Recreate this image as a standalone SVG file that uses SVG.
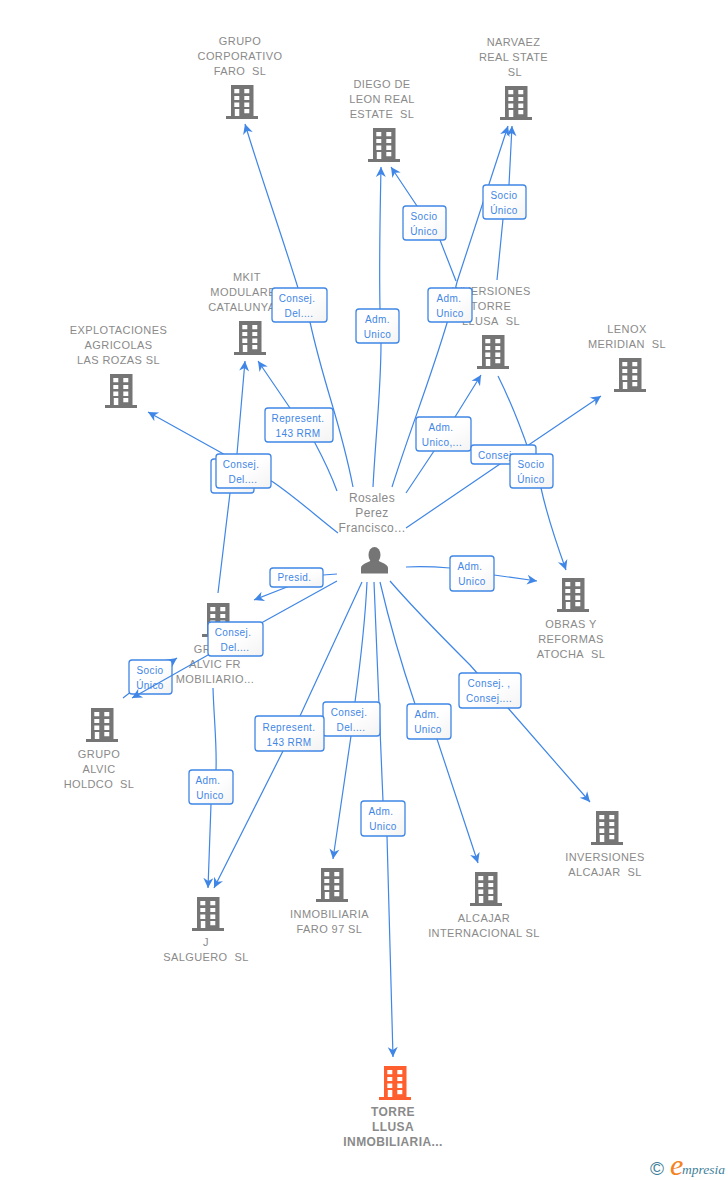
<svg xmlns="http://www.w3.org/2000/svg" xmlns:xlink="http://www.w3.org/1999/xlink" width="728" height="1180" viewBox="0 0 728 1180">
<style>
text{font-family:"Liberation Sans",Arial,sans-serif}
.n{font-size:11px;fill:#8a8a8a;text-anchor:middle;letter-spacing:.4px}
.nb{font-weight:bold;font-size:12px;letter-spacing:.4px}
.c{fill:none;stroke:#3f86e6;stroke-width:1.2}
.b{fill:url(#bg);stroke:#3f86e6;stroke-width:1.3}
.l{font-size:10px;fill:#3f86e6;text-anchor:middle;letter-spacing:.4px}
</style>
<defs>
<linearGradient id="bg" x1="0" y1="0" x2="1" y2="1"><stop offset="0" stop-color="#fff"/><stop offset="0.5" stop-color="#fff"/><stop offset="1" stop-color="#f3f3f3"/></linearGradient>
<marker id="a" markerUnits="userSpaceOnUse" markerWidth="14" markerHeight="14" viewBox="0 0 14 14" refX="11" refY="7" orient="auto"><path d="M11,7 L1,2 L4,7 L1,12 Z" fill="#3f86e6"/></marker>
<symbol id="bld" viewBox="0 0 32 34" width="32" height="34">
<path fill-rule="evenodd" d="M5,0H27.500V31H32V34H0V31H5Z M8.300,4V8.300H13.300V4Z M18.300,4V8.300H23.300V4Z M8.300,11V15H13.300V11Z M18.300,11V15H23.300V11Z M8.300,17.500V22H13.300V17.500Z M18.300,17.500V22H23.300V17.500Z M8.800,24V31H13.300V24Z M18.300,24V28.300H23.300V24Z"/>
</symbol>
</defs>
<g id="node-grupo-corporativo"><use href="#bld" x="226" y="85" fill="#757575"/><text class="n" x="240" y="45"><tspan x="240">GRUPO</tspan><tspan x="240" dy="15">CORPORATIVO</tspan><tspan x="240" dy="15">FARO&#160; SL</tspan></text></g>
<g id="node-diego"><use href="#bld" x="368" y="128" fill="#757575"/><text class="n" x="382" y="88"><tspan x="382">DIEGO DE</tspan><tspan x="382" dy="15">LEON REAL</tspan><tspan x="382" dy="15">ESTATE&#160; SL</tspan></text></g>
<g id="node-narvaez"><use href="#bld" x="500" y="86" fill="#757575"/><text class="n" x="513.500" y="46"><tspan x="513.500">NARVAEZ</tspan><tspan x="513.500" dy="15">REAL STATE</tspan><tspan x="515" dy="15">SL</tspan></text></g>
<g id="node-mkit"><use href="#bld" x="234" y="321" fill="#757575"/><text class="n" x="247" y="281"><tspan x="247">MKIT</tspan><tspan x="247" dy="15">MODULARES</tspan><tspan x="247" dy="15">CATALUNYA...</tspan></text></g>
<g id="node-explotaciones"><use href="#bld" x="105" y="374" fill="#757575"/><text class="n" x="118.500" y="334"><tspan x="118.500">EXPLOTACIONES</tspan><tspan x="118.500" dy="15">AGRICOLAS</tspan><tspan x="118.500" dy="15">LAS ROZAS SL</tspan></text></g>
<g id="node-inversiones-torre"><use href="#bld" x="477" y="335" fill="#757575"/><text class="n" x="491" y="295"><tspan x="491">INVERSIONES</tspan><tspan x="491" dy="15">TORRE</tspan><tspan x="491" dy="15">LLUSA&#160; SL</tspan></text></g>
<g id="node-lenox"><use href="#bld" x="614" y="358" fill="#757575"/><text class="n" x="627" y="333"><tspan x="627">LENOX</tspan><tspan x="627" dy="15">MERIDIAN&#160; SL</tspan></text></g>
<g id="node-obras"><use href="#bld" x="557" y="578" fill="#757575"/><text class="n" x="571" y="628"><tspan x="571">OBRAS Y</tspan><tspan x="571" dy="15">REFORMAS</tspan><tspan x="571" dy="15">ATOCHA&#160; SL</tspan></text></g>
<g id="node-alvic-fr"><use href="#bld" x="202" y="603" fill="#757575"/><text class="n" x="215" y="653"><tspan x="215">GRUPO</tspan><tspan x="215" dy="15">ALVIC FR</tspan><tspan x="215" dy="15">MOBILIARIO...</tspan></text></g>
<g id="node-alvic-holdco"><use href="#bld" x="86" y="708" fill="#757575"/><text class="n" x="99" y="758"><tspan x="99">GRUPO</tspan><tspan x="99" dy="15">ALVIC</tspan><tspan x="99" dy="15">HOLDCO&#160; SL</tspan></text></g>
<g id="node-salguero"><use href="#bld" x="192" y="897" fill="#757575"/><text class="n" x="206" y="946"><tspan x="206">J</tspan><tspan x="206" dy="15">SALGUERO&#160; SL</tspan></text></g>
<g id="node-inmobiliaria"><use href="#bld" x="316" y="868" fill="#757575"/><text class="n" x="329.500" y="918"><tspan x="329.500">INMOBILIARIA</tspan><tspan x="329.500" dy="15">FARO 97 SL</tspan></text></g>
<g id="node-alcajar"><use href="#bld" x="470" y="872" fill="#757575"/><text class="n" x="484" y="922"><tspan x="484">ALCAJAR</tspan><tspan x="484" dy="15">INTERNACIONAL SL</tspan></text></g>
<g id="node-inversiones-alcajar"><use href="#bld" x="591" y="811" fill="#757575"/><text class="n" x="605" y="861"><tspan x="605">INVERSIONES</tspan><tspan x="605" dy="15">ALCAJAR&#160; SL</tspan></text></g>
<g id="node-torre-llusa"><use href="#bld" x="379" y="1066" fill="#ff5f2e"/><text class="n nb" x="393" y="1116"><tspan x="393">TORRE</tspan><tspan x="393" dy="15">LLUSA</tspan><tspan x="393" dy="15">INMOBILIARIA...</tspan></text></g>
<g id="node-person">
<text class="n" style="font-size:12px" x="372" y="502"><tspan x="372">Rosales</tspan><tspan x="372" dy="15">Perez</tspan><tspan x="372" dy="15">Francisco...</tspan></text>
<ellipse cx="374.500" cy="555" rx="6" ry="8" fill="#757575"/>
<path d="M361,573.500V568C361,564 368,562.500 371,560.500H378C381,562.500 388,564 388,568V573.500Z" fill="#757575"/>
</g>
<g id="connectors">
<path class="c" marker-end="url(#a)" d="M353,487C340,420 325,390 310,322L298,288C280,230 262,180 245,124"/>
<path class="c" marker-end="url(#a)" d="M373,487C376,430 381,390 381,343L380,309C379,260 380,220 381,167"/>
<path class="c" marker-end="url(#a)" d="M456,281L440,240L417,206L391,167"/>
<path class="c" marker-end="url(#a)" d="M392,487C410,430 430,380 447,323L457,282L508,126"/>
<path class="c" marker-end="url(#a)" d="M497,280L503,219L509,185L512,126"/>
<path class="c" marker-end="url(#a)" d="M218,593L230,493L237,454L245,361"/>
<path class="c" marker-end="url(#a)" d="M337,491C330,472 323,458 315,443L290,408L258,361"/>
<path class="c" marker-end="url(#a)" d="M338,533C315,515 295,497 273,482L220,452L148,412"/>
<path class="c" marker-end="url(#a)" d="M406,493L434,451L455,417L481,375"/>
<path class="c" marker-end="url(#a)" d="M406,528L500,464L530,444L601,396"/>
<path class="c" marker-end="url(#a)" d="M498,376C510,400 520,425 530,454L541,488C548,520 557,545 566,570"/>
<path class="c" marker-end="url(#a)" d="M406,567C425,566 438,567 450,568L494,575L537,581"/>
<path class="c" marker-end="url(#a)" d="M390,581C415,610 440,635 470,665L508,708L590,802"/>
<path class="c" marker-end="url(#a)" d="M380,582C390,625 400,660 415,704L437,739L478,863"/>
<path class="c" marker-end="url(#a)" d="M374,582C377,660 380,730 383,801L387,836L393,1057"/>
<path class="c" marker-end="url(#a)" d="M367,582C365,625 360,665 355,702L351,736L333,859"/>
<path class="c" marker-end="url(#a)" d="M362,582L300,716L283,751L214,888"/>
<path class="c" marker-end="url(#a)" d="M213,688C214,720 217,745 216,770L211,804L208,888"/>
<path class="c" marker-end="url(#a)" d="M337,574L323,575L287,587L254,600"/>
<path class="c" marker-end="url(#a)" d="M123,698L150,677L177,658"/>
<g id="label-socio-alvic">
<rect class="b" x="129" y="660" width="43" height="34" rx="3"/><text class="l"><tspan x="150" y="674">Socio</tspan><tspan x="150" y="689">Único</tspan></text>
</g>
<path class="c" marker-end="url(#a)" d="M337,581L263,622L208,655L132,698"/>
<g id="labels">
<rect class="b" x="272" y="288" width="55" height="34" rx="3"/><text class="l"><tspan x="297" y="302">Consej.</tspan><tspan x="299" y="317">Del....</tspan></text>
<rect class="b" x="356" y="309" width="43" height="34" rx="3"/><text class="l"><tspan x="377.500" y="323">Adm.</tspan><tspan x="377.500" y="338">Unico</tspan></text>
<rect class="b" x="403" y="206" width="43" height="34" rx="3"/><text class="l"><tspan x="424" y="220">Socio</tspan><tspan x="424" y="235">Único</tspan></text>
<rect class="b" x="428" y="288" width="44" height="34" rx="3"/><text class="l"><tspan x="449" y="302">Adm.</tspan><tspan x="450" y="317">Unico</tspan></text>
<rect class="b" x="483" y="185" width="43" height="34" rx="3"/><text class="l"><tspan x="504" y="199">Socio</tspan><tspan x="504" y="214">Único</tspan></text>
<rect class="b" x="265" y="408" width="68" height="34" rx="3"/><text class="l"><tspan x="298" y="422">Represent.</tspan><tspan x="298" y="437">143 RRM</tspan></text>
<rect class="b" x="211" y="459" width="43" height="34" rx="3"/>
<rect class="b" x="216" y="454" width="55" height="34" rx="3"/><text class="l"><tspan x="241" y="468">Consej.</tspan><tspan x="243" y="483">Del....</tspan></text>
<rect class="b" x="416" y="417" width="55" height="34" rx="3"/><text class="l"><tspan x="441" y="431">Adm.</tspan><tspan x="442" y="446">Unico,...</tspan></text>
<rect class="b" x="471" y="445" width="65" height="19" rx="3"/><text class="l" x="478" y="459" style="text-anchor:start">Consej.</text>
<rect class="b" x="510" y="454" width="43" height="34" rx="3"/><text class="l"><tspan x="531" y="468">Socio</tspan><tspan x="531" y="483">Único</tspan></text>
<rect class="b" x="450" y="556" width="44" height="35" rx="3"/><text class="l"><tspan x="470" y="570">Adm.</tspan><tspan x="472" y="585">Unico</tspan></text>
<rect class="b" x="459" y="673" width="62" height="35" rx="3"/><text class="l"><tspan x="489" y="687">Consej. ,</tspan><tspan x="489" y="702">Consej....</tspan></text>
<rect class="b" x="407" y="704" width="44" height="35" rx="3"/><text class="l"><tspan x="427" y="718">Adm.</tspan><tspan x="428" y="733">Unico</tspan></text>
<rect class="b" x="361" y="801" width="44" height="35" rx="3"/><text class="l"><tspan x="381" y="815">Adm.</tspan><tspan x="383" y="830">Unico</tspan></text>
<rect class="b" x="323" y="702" width="57" height="34" rx="3"/><text class="l"><tspan x="349" y="716">Consej.</tspan><tspan x="351" y="731">Del....</tspan></text>
<rect class="b" x="255" y="716" width="69" height="35" rx="3"/><text class="l"><tspan x="289" y="731">Represent.</tspan><tspan x="289" y="746">143 RRM</tspan></text>
<rect class="b" x="189" y="770" width="44" height="34" rx="3"/><text class="l"><tspan x="208" y="784">Adm.</tspan><tspan x="210" y="799">Unico</tspan></text>
<rect class="b" x="270" y="568" width="53" height="19" rx="3"/><text class="l" x="294.500" y="581">Presid.</text>
<rect class="b" x="208" y="622" width="55" height="34" rx="3"/><text class="l"><tspan x="233" y="636">Consej.</tspan><tspan x="235" y="651">Del....</tspan></text>
</g>
</g>
<g id="watermark">
<text x="650" y="1175" style="font-size:19px" fill="#3f7f9b">©</text>
<text x="670" y="1175" style="font-family:'Liberation Serif',serif;font-style:italic;font-size:30px" fill="#f58220">e</text>
<text x="682" y="1174" style="font-family:'Liberation Serif',serif;font-style:italic;font-size:13.500px" fill="#3f7f9b">mpresia</text>
</g>
</svg>
